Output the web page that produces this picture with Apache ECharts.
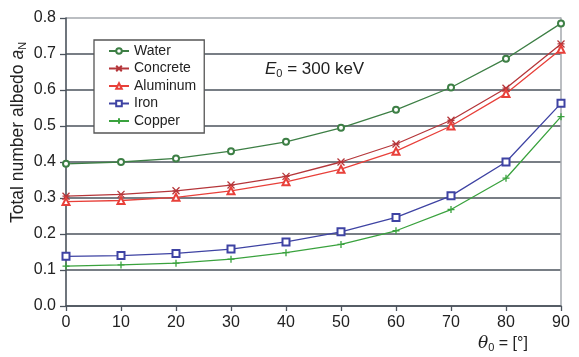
<!DOCTYPE html>
<html><head><meta charset="utf-8">
<script src="https://cdn.jsdelivr.net/npm/echarts@6/dist/echarts.min.js"></script>
<style>html,body{margin:0;padding:0;background:#fff}#c{width:579px;height:357px}</style>
</head><body><div id="c"></div>
<script>
const angles = [0, 10, 20, 30, 40, 50, 60, 70, 80, 90];
const water    = [0.395, 0.400, 0.410, 0.430, 0.456, 0.495, 0.545, 0.607, 0.687, 0.785];
const concrete = [0.305, 0.310, 0.320, 0.336, 0.360, 0.400, 0.450, 0.516, 0.605, 0.728];
const aluminum = [0.290, 0.293, 0.302, 0.320, 0.345, 0.380, 0.430, 0.500, 0.590, 0.713];
const iron     = [0.138, 0.140, 0.146, 0.158, 0.178, 0.206, 0.246, 0.306, 0.400, 0.563];
const copper   = [0.111, 0.114, 0.119, 0.130, 0.148, 0.171, 0.209, 0.268, 0.355, 0.526];
const yTicks = [0.0, 0.1, 0.2, 0.3, 0.4, 0.5, 0.6, 0.7, 0.8];

const FONT = '"Liberation Sans", Arial, Helvetica, sans-serif';
const chart = echarts.init(document.getElementById('c'), null, {renderer: 'canvas'});

function mk(name, data, color, symbol, size) {
  return {
    name, type: 'line', data: angles.map((a, i) => [a, data[i]]),
    symbol, symbolSize: size, showSymbol: true,
    lineStyle: {color, width: 1.3},
    itemStyle: {color, borderColor: color, borderWidth: 1.3},
    emphasis: {disabled: true}, animation: false, z: 5
  };
}

const GRID = '#4b535c';
chart.setOption({
  animation: false,
  backgroundColor: '#fff',
  textStyle: {fontFamily: FONT},
  grid: {left: 66, right: 18, top: 18, bottom: 51, containLabel: false},
  legend: {
    left: 94, top: 40, orient: 'vertical',
    backgroundColor: '#fff', borderColor: '#555', borderWidth: 1.3,
    padding: [4, 8, 5, 14], itemGap: 3.5, itemWidth: 20, itemHeight: 7,
    textStyle: {fontFamily: FONT, fontSize: 14, color: '#222'},
    data: ['Water', 'Concrete', 'Aluminum', 'Iron', 'Copper']
  },
  xAxis: {
    type: 'value', min: 0, max: 90, interval: 10,
    axisLine: {show: true, lineStyle: {color: GRID, width: 1.6}},
    axisTick: {show: true, inside: false, length: 5, lineStyle: {color: GRID, width: 1.3}},
    axisLabel: {fontSize: 16, color: '#222', fontFamily: FONT, margin: 9},
    splitLine: {show: false}
  },
  yAxis: [{
    type: 'value', min: 0, max: 0.8, interval: 0.1,
    axisLine: {show: true, lineStyle: {color: GRID, width: 1.6}},
    axisTick: {show: true, inside: false, length: 6, lineStyle: {color: GRID, width: 1.3}},
    axisLabel: {fontSize: 16, color: '#222', fontFamily: FONT, margin: 10,
      formatter: v => yTicks.includes(Math.round(v * 10) / 10) ? v.toFixed(1) : ''},
    splitLine: {show: true, lineStyle: {color: [GRID,GRID,GRID,GRID,GRID,GRID,GRID,GRID,'#a4a9ae'], width: 1.7}}
  }, {
    type: 'value', min: 0, max: 0.8, interval: 0.1, position: 'right',
    axisLine: {show: true, lineStyle: {color: '#a4a9ae', width: 1.5}},
    axisTick: {show: false}, axisLabel: {show: false}, splitLine: {show: false}
  }],
  series: [
    mk('Water', water, '#3d7f45', 'emptyCircle', 6),
    mk('Concrete', concrete, '#b5363a', 'path://M0,0L10,10M10,0L0,10M0,5L10,5', 7),
    mk('Aluminum', aluminum, '#e8403a', 'emptyTriangle', 7),
    mk('Iron', iron, '#3e43a3', 'emptyRect', 7),
    mk('Copper', copper, '#3aa23e', 'path://M5,0L5,10M0,5L10,5', 7)
  ],
  graphic: [
    {type: 'text', left: 265, top: 61, z: 10, style: {
      text: '{i|E}{s|0} = 300 keV', fill: '#222', font: '17px ' + FONT,
      rich: {i: {fontStyle: 'italic', fontSize: 17, fontFamily: FONT},
             s: {fontSize: 11, verticalAlign: 'bottom', padding: [9, 0, 0, 0], fontFamily: FONT}}
    }},
    {type: 'text', x: 8, y: 223, rotation: Math.PI / 2, z: 10, style: {
      text: 'Total number albedo {i|a}{s|N}', fill: '#222', font: '17.5px ' + FONT,
      rich: {i: {fontStyle: 'italic', fontSize: 17.5, fontFamily: FONT},
             s: {fontSize: 11, verticalAlign: 'bottom', padding: [9, 0, 0, 0], fontFamily: FONT}}
    }},
    {type: 'text', left: 478, top: 335, z: 10, style: {
      text: '{i|θ}{s|0} = [°]', fill: '#222', font: '16px ' + FONT,
      rich: {i: {fontStyle: 'italic', fontSize: 17, fontFamily: '"DejaVu Serif", "Liberation Serif", serif'},
             s: {fontSize: 11, verticalAlign: 'bottom', padding: [8, 0, 0, 0], fontFamily: FONT}}
    }}
  ]
});
</script></body></html>
